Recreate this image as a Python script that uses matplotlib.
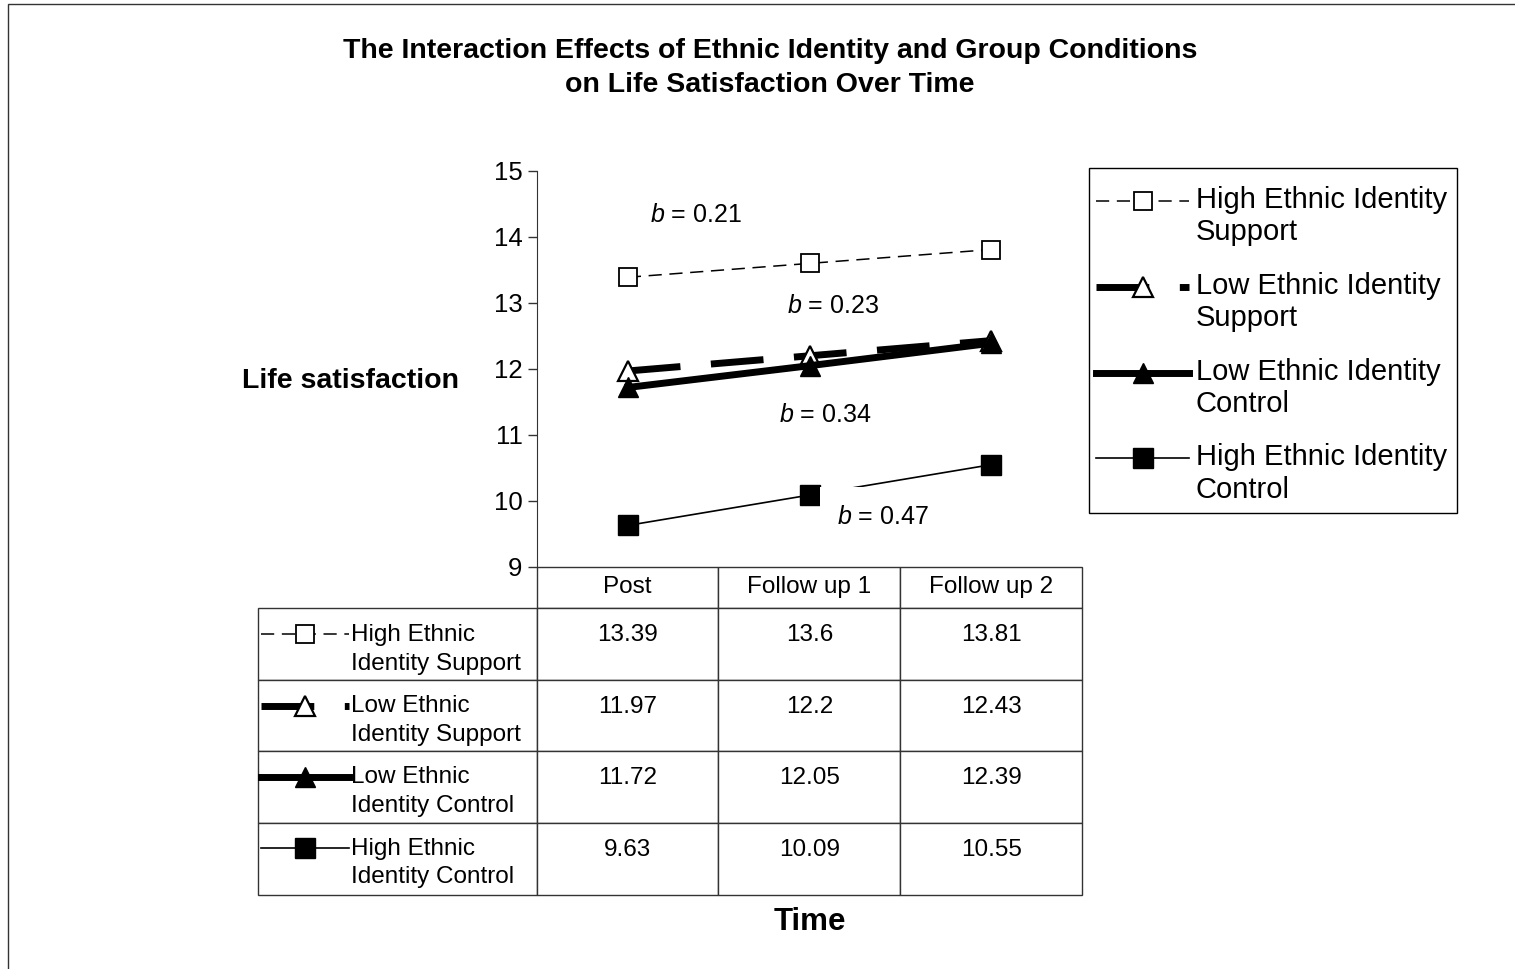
import numpy as np
import matplotlib.pyplot as plt
from matplotlib.table import Table
from matplotlib.lines import Line2D
from matplotlib.legend_handler import HandlerLine2D
from matplotlib.patches import Rectangle

plt.rcParams['font.family'] = ['Liberation Sans', 'DejaVu Sans']
plt.rcParams['mathtext.fontset'] = 'custom'
plt.rcParams['mathtext.rm'] = 'Liberation Sans'
plt.rcParams['mathtext.it'] = 'Liberation Sans:italic'
plt.rcParams['lines.scale_dashes'] = False

# ------------------------------
# Daten
# ------------------------------
zeitpunkte = ['Post', 'Follow up 1', 'Follow up 2']

high_support = [13.39, 13.6, 13.81]
low_support = [11.97, 12.2, 12.43]
low_control = [11.72, 12.05, 12.39]
high_control = [9.63, 10.09, 10.55]

legend_labels = ['High Ethnic Identity\nSupport', 'Low Ethnic Identity\nSupport',
                 'Low Ethnic Identity\nControl', 'High Ethnic Identity\nControl']
table_labels = ['High Ethnic\nIdentity Support', 'Low Ethnic\nIdentity Support',
                'Low Ethnic\nIdentity Control', 'High Ethnic\nIdentity Control']

slopes = ['0.21', '0.23', '0.34', '0.47']
slope_x = [0.375, 1.13, 1.085, 1.405]
slope_y = [14.33, 12.955, 11.30, 9.76]

W, H = 1515, 969
dunkel = '#333333'


# Legendensymbol auf Höhe der ersten Textzeile
class ErsteZeile(HandlerLine2D):
    def __init__(self, versatz=0.55, **kw):
        super().__init__(**kw)
        self.versatz = versatz

    def create_artists(self, legend, orig_handle, xdescent, ydescent,
                       width, height, fontsize, trans):
        arts = super().create_artists(legend, orig_handle, xdescent, ydescent,
                                      width, height, fontsize, trans)
        for a in arts:
            a.set_ydata(np.asarray(a.get_ydata()) + self.versatz * fontsize)
        return arts


fig = plt.figure(figsize=(W / 100, H / 100), dpi=100)

# Rahmen (nur links und oben sichtbar)
fig.patches.append(Rectangle((8 / W, -0.1), 1.2, 1 - 4 / H + 0.1,
                             transform=fig.transFigure, fill=False,
                             ec=dunkel, lw=1))

# ------------------------------
# Diagramm
# ------------------------------
ax = fig.add_axes([537 / W, 1 - 567 / H, 545 / W, 396 / H])
x = np.arange(len(zeitpunkte))

l1, = ax.plot(x, high_support, color='black', lw=1.1, dashes=(9.5, 5.5),
              marker='s', ms=13, mfc='white', mec='black', mew=1.3)
l2, = ax.plot(x, low_support, color='black', lw=5, dashes=(38, 22),
              marker='^', ms=14, mfc='white', mec='black', mew=1.6)
l3, = ax.plot(x, low_control, color='black', lw=5,
              marker='^', ms=14, mfc='black', mec='black')
l4, = ax.plot(x, high_control, color='black', lw=1.2,
              marker='s', ms=14, mfc='black', mec='black')
linien = [l1, l2, l3, l4]

for sx, sy, b in zip(slope_x, slope_y, slopes):
    ax.text(sx, sy, f'$b$ = {b}', ha='center', va='center', fontsize=18,
            zorder=3, bbox=dict(boxstyle='square,pad=0.7', fc='white', ec='none'))

ax.set_xlim(-0.5, 2.5)
ax.set_ylim(9, 15)
ax.set_yticks(range(9, 16))
ax.set_xticks([])
for s in ['top', 'right', 'bottom']:
    ax.spines[s].set_visible(False)
ax.spines['left'].set_color(dunkel)
ax.tick_params(axis='y', length=6.5, width=1, color=dunkel, labelsize=18.5, pad=4)

# ------------------------------
# Datentabelle
# ------------------------------
tax = fig.add_axes([258 / W, 1 - 895 / H, 824 / W, 328 / H])
tax.axis('off')
breiten = [279, 182, 182, 182]
tabelle = Table(tax, bbox=[0, 0, 1, 1])
for j, name in enumerate(zeitpunkte):
    tabelle.add_cell(0, j + 1, width=breiten[j + 1], height=41, text=name, loc='center')
for i, werte in enumerate([high_support, low_support, low_control, high_control]):
    tabelle.add_cell(i + 1, 0, width=breiten[0], height=72, text='')
    for j, v in enumerate(werte):
        tabelle.add_cell(i + 1, j + 1, width=breiten[j + 1], height=72,
                         text=f'{v:g}\n', loc='center')
tabelle.auto_set_font_size(False)
tabelle.set_fontsize(17.5)
for (r, c), zelle in tabelle.get_celld().items():
    zelle.set_edgecolor(dunkel)
    zelle.set_linewidth(1)
    if r > 0:
        zelle.get_text().set_linespacing(0.75)
tax.add_table(tabelle)

tleg = tax.legend(linien, table_labels, loc='upper left',
                  bbox_to_anchor=(261 / W, 1 - 624 / H), bbox_transform=fig.transFigure,
                  fontsize=17.5, handlelength=3.6, handletextpad=0.1, labelspacing=0.84,
                  borderpad=0, borderaxespad=0, frameon=False,
                  handler_map={Line2D: ErsteZeile(0.62)})
for t in tleg.get_texts():
    t.set_linespacing(1.4)

# ------------------------------
# Legende rechts (Rahmen separat)
# ------------------------------
fig.patches.append(Rectangle((1089 / W, 1 - 513 / H), 368 / W, 345 / H,
                             transform=fig.transFigure, fill=False,
                             ec='black', lw=1))
leg = fig.legend(linien, legend_labels, loc='upper left',
                 bbox_to_anchor=(1096 / W, 1 - 186 / H),
                 fontsize=21, handlelength=3.2, handletextpad=0.22,
                 labelspacing=0.87, borderpad=0, borderaxespad=0,
                 frameon=False, handler_map={Line2D: ErsteZeile(0.55)})

# ------------------------------
# Texte
# ------------------------------
fig.text(770 / W, 1 - 68 / H,
         'The Interaction Effects of Ethnic Identity and Group Conditions\n'
         'on Life Satisfaction Over Time',
         ha='center', va='center', fontsize=20.5, fontweight='bold', linespacing=1.4)
fig.text(350 / W, 1 - 381 / H, 'Life satisfaction', ha='center', va='center',
         fontsize=20.5, fontweight='bold')
fig.text(810 / W, 1 - 922 / H, 'Time', ha='center', va='center',
         fontsize=22.5, fontweight='bold')

fig.savefig('out.png', dpi=100)
